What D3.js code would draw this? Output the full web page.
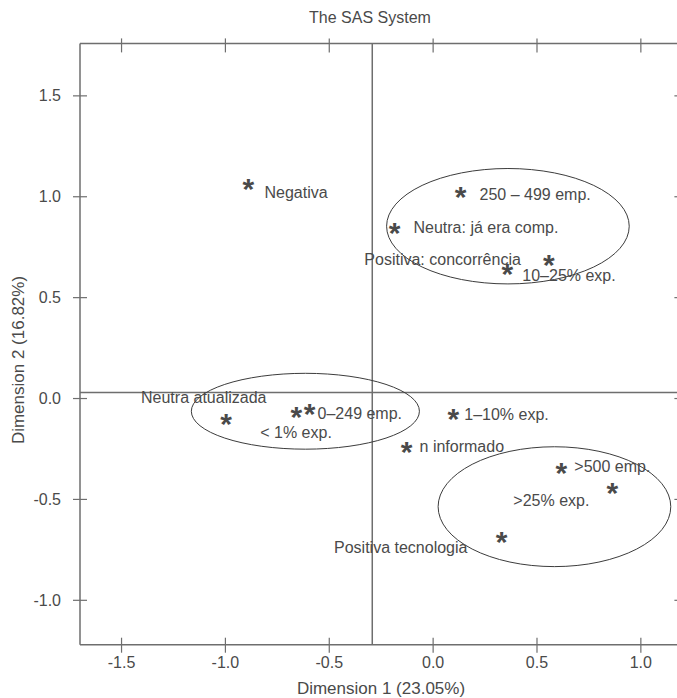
<!DOCTYPE html>
<html>
<head>
<meta charset="utf-8">
<script src="https://cdn.jsdelivr.net/npm/d3@7"></script>
<style>
  html, body { margin: 0; padding: 0; background: #fff; }
  svg { display: block; }
  text { font-family: "Liberation Sans", Arial, sans-serif; fill: #4a4a4a; }
</style>
</head>
<body>
<svg id="chart" width="677" height="698"></svg>
<script>
// Correspondence analysis: category coordinates on the first two dimensions
const labels = [
  "Negativa", "250 – 499 emp.", "Neutra: já era comp.", "Positiva: concorrência",
  "10–25% exp.", "Neutra atualizada", "0–249 emp.", "< 1% exp.",
  "1–10% exp.", "n informado", ">500 emp.", ">25% exp.", "Positiva tecnologia"
];
const dim1 = [-0.889, 0.132, -0.186, 0.557, 0.357, -0.997, -0.595, -0.659, 0.097, -0.128, 0.617, 0.863, 0.329];
const dim2 = [1.058, 1.017, 0.840, 0.681, 0.637, -0.107, -0.054, -0.073, -0.082, -0.247, -0.351, -0.450, -0.690];

// Group ellipses (centre and semi-axes, in dimension units)
const ellipseCx = [0.360, -0.615, 0.584];
const ellipseCy = [0.854, -0.063, -0.536];
const ellipseRx = [0.584, 0.549, 0.560];
const ellipseRy = [0.286, 0.188, 0.297];

// Reference lines through the centroid
const refDim1 = -0.293;
const refDim2 = 0.030;

const xTicks = [-1.5, -1.0, -0.5, 0.0, 0.5, 1.0];
const yTicks = [-1.0, -0.5, 0.0, 0.5, 1.0, 1.5];

const title = "The SAS System";
const xTitle = "Dimension 1 (23.05%)";
const yTitle = "Dimension 2 (16.82%)";

// Label placement around each asterisk: anchor and pixel offset of the text's middle line
const labelPlace = {
  "Negativa":               { anchor: "start", dx: 16,  dy: 7 },
  "250 – 499 emp.":         { anchor: "start", dx: 19,  dy: 1 },
  "Neutra: já era comp.":   { anchor: "start", dx: 19,  dy: -2 },
  "Positiva: concorrência": { anchor: "end",   dx: -28, dy: -2 },
  "10–25% exp.":            { anchor: "start", dx: 15,  dy: 5 },
  "Neutra atualizada":      { anchor: "start", dx: -85, dy: -23 },
  "0–249 emp.":             { anchor: "start", dx: 8,   dy: 4 },
  "< 1% exp.":              { anchor: "start", dx: -36, dy: 19 },
  "1–10% exp.":             { anchor: "start", dx: 11,  dy: -1 },
  "n informado":            { anchor: "start", dx: 13,  dy: -2 },
  ">500 emp.":              { anchor: "start", dx: 13,  dy: -3 },
  ">25% exp.":              { anchor: "end",   dx: -23, dy: 11 },
  "Positiva tecnologia":    { anchor: "end",   dx: -34, dy: 10 }
};

const svg = d3.select("#chart");

const x = d3.scaleLinear().domain([-1.7, 1.2]).range([80, 682.4]);
const y = d3.scaleLinear().domain([-1.22, 1.76]).range([644.7, 43.4]);

const [x0, x1] = x.range();
const [yB, yT] = y.range();
const axisColor = "#6e6e6e";

// Frame: left, bottom, top (right edge falls just outside the canvas)
const frame = svg.append("g").attr("stroke", axisColor).attr("stroke-width", 1.5).attr("fill", "none");
frame.append("line").attr("x1", x0).attr("x2", x0).attr("y1", yT).attr("y2", yB);
frame.append("line").attr("x1", x0).attr("x2", x1).attr("y1", yB).attr("y2", yB);
frame.append("line").attr("x1", x0).attr("x2", x1).attr("y1", yT).attr("y2", yT);
frame.append("line").attr("x1", x1).attr("x2", x1).attr("y1", yT).attr("y2", yB);

// Ticks crossing the frame
const ticks = svg.append("g").attr("stroke", axisColor).attr("stroke-width", 1.2);
xTicks.forEach(v => {
  ticks.append("line").attr("x1", x(v)).attr("x2", x(v)).attr("y1", yB - 7).attr("y2", yB + 8);
  ticks.append("line").attr("x1", x(v)).attr("x2", x(v)).attr("y1", yT - 5).attr("y2", yT + 9);
});
yTicks.forEach(v => {
  ticks.append("line").attr("x1", x0 - 7).attr("x2", x0 + 7).attr("y1", y(v)).attr("y2", y(v));
  ticks.append("line").attr("x1", x1 - 8).attr("x2", x1 + 7).attr("y1", y(v)).attr("y2", y(v));
});

// Tick labels (SAS prints a plain hyphen for negatives)
const fmt = v => d3.format(".1f")(v).replace("\u2212", "-");
svg.append("g").selectAll("text").data(xTicks).join("text")
  .attr("x", d => x(d)).attr("y", 668)
  .attr("text-anchor", "middle").attr("font-size", 16)
  .text(d => fmt(d));
svg.append("g").selectAll("text").data(yTicks).join("text")
  .attr("x", 61).attr("y", d => y(d)).attr("dy", "0.35em")
  .attr("text-anchor", "end").attr("font-size", 16)
  .text(d => fmt(d));

// Titles
svg.append("text").attr("x", 370).attr("y", 23).attr("text-anchor", "middle")
  .attr("font-size", 16).text(title);
svg.append("text").attr("x", 381).attr("y", 694).attr("text-anchor", "middle")
  .attr("font-size", 17).text(xTitle);
svg.append("text").attr("transform", "translate(24,360) rotate(-90)")
  .attr("text-anchor", "middle").attr("font-size", 17).text(yTitle);

// Reference lines
const ref = svg.append("g").attr("stroke", axisColor).attr("stroke-width", 1.5);
ref.append("line").attr("x1", x(refDim1)).attr("x2", x(refDim1)).attr("y1", yT).attr("y2", yB);
ref.append("line").attr("x1", x0).attr("x2", x1).attr("y1", y(refDim2)).attr("y2", y(refDim2));

// Group ellipses
svg.append("g").selectAll("ellipse").data(ellipseCx).join("ellipse")
  .attr("cx", (d, i) => x(d))
  .attr("cy", (d, i) => y(ellipseCy[i]))
  .attr("rx", (d, i) => x(ellipseRx[i]) - x(0))
  .attr("ry", (d, i) => y(0) - y(ellipseRy[i]))
  .attr("fill", "none").attr("stroke", "#3c3c3c").attr("stroke-width", 1);

// Points as asterisks with their labels
const pts = labels.map((l, i) => ({ label: l, d1: dim1[i], d2: dim2[i] }));
const markSize = 30;
svg.append("g").selectAll("text").data(pts).join("text")
  .attr("x", d => x(d.d1))
  .attr("y", d => y(d.d2) + markSize * 0.47)
  .attr("text-anchor", "middle")
  .attr("font-size", markSize)
  .attr("font-weight", "bold")
  .style("fill", "#4a4a4a")
  .text("*");

svg.append("g").selectAll("text").data(pts).join("text")
  .attr("x", d => x(d.d1) + labelPlace[d.label].dx)
  .attr("y", d => y(d.d2) + labelPlace[d.label].dy)
  .attr("dy", "0.35em")
  .attr("text-anchor", d => labelPlace[d.label].anchor)
  .attr("font-size", 16)
  .text(d => d.label);
</script>
</body>
</html>
